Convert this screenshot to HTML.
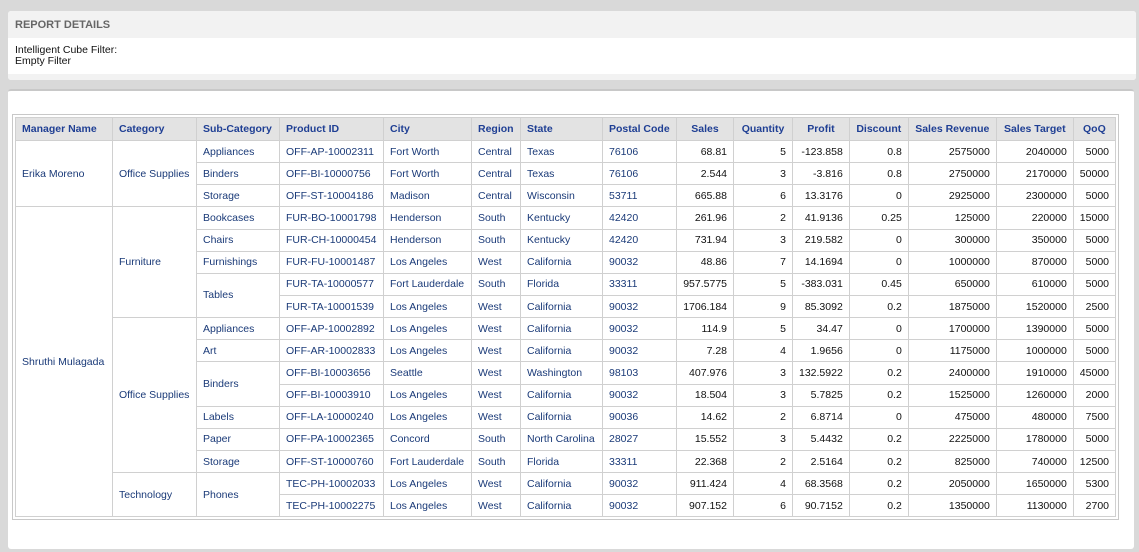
<!DOCTYPE html>
<html><head><meta charset="utf-8"><style>
body{margin:0;width:1139px;height:552px;background:#d9d9d9;font-family:"Liberation Sans",Arial,sans-serif;position:relative;overflow:hidden}
.p1{position:absolute;left:8px;top:11px;width:1128px;height:69px;background:#fff;border-radius:3px;overflow:hidden}
.p1 .h{height:27px;background:#f2f2f2;color:#666;font-weight:bold;font-size:11px;line-height:28px;padding-left:7px}
.p1 .t{font-size:10.5px;color:#111;padding:7px 0 0 7px;line-height:11px}
.p1 .s{position:absolute;left:0;right:0;bottom:0;height:6px;background:#f2f2f2}
.p2{position:absolute;left:8px;top:89px;width:1126px;height:460px;background:#fff;border-radius:3px;border-top:2px solid #c8c8c8;box-sizing:border-box}
table{position:absolute;left:15px;top:117px;border-collapse:collapse;table-layout:fixed;font-size:10.5px;color:#1a3a78;outline:1px solid #c8c8c8;outline-offset:2px}
td,th{border:1px solid #d0d0d0;padding:0 6px;height:21.15px;white-space:nowrap;overflow:hidden}
th{background:#e3e3e3;font-weight:bold;color:#1f3f94;height:22px;text-align:left}
th.n{text-align:center}
td.n{text-align:right;color:#111}
</style></head><body>
<div class="p1"><div class="h">REPORT DETAILS</div><div class="t">Intelligent Cube Filter:<br>Empty Filter</div><div class="s"></div></div>
<div class="p2"></div>
<table>
<colgroup><col style="width:97px"><col style="width:84px"><col style="width:83px"><col style="width:104px"><col style="width:88px"><col style="width:49px"><col style="width:82px"><col style="width:74px"><col style="width:57px"><col style="width:59px"><col style="width:56px"><col style="width:59px"><col style="width:88px"><col style="width:77px"><col style="width:41px"></colgroup>
<tr><th>Manager Name</th><th>Category</th><th>Sub-Category</th><th>Product ID</th><th>City</th><th>Region</th><th>State</th><th>Postal Code</th><th class="n">Sales</th><th class="n">Quantity</th><th class="n">Profit</th><th class="n">Discount</th><th class="n">Sales Revenue</th><th class="n">Sales Target</th><th class="n">QoQ</th></tr>
<tr><td rowspan="3">Erika Moreno</td><td rowspan="3">Office Supplies</td><td>Appliances</td><td>OFF-AP-10002311</td><td>Fort Worth</td><td>Central</td><td>Texas</td><td>76106</td><td class="n">68.81</td><td class="n">5</td><td class="n">-123.858</td><td class="n">0.8</td><td class="n">2575000</td><td class="n">2040000</td><td class="n">5000</td></tr>
<tr><td>Binders</td><td>OFF-BI-10000756</td><td>Fort Worth</td><td>Central</td><td>Texas</td><td>76106</td><td class="n">2.544</td><td class="n">3</td><td class="n">-3.816</td><td class="n">0.8</td><td class="n">2750000</td><td class="n">2170000</td><td class="n">50000</td></tr>
<tr><td>Storage</td><td>OFF-ST-10004186</td><td>Madison</td><td>Central</td><td>Wisconsin</td><td>53711</td><td class="n">665.88</td><td class="n">6</td><td class="n">13.3176</td><td class="n">0</td><td class="n">2925000</td><td class="n">2300000</td><td class="n">5000</td></tr>
<tr><td rowspan="14">Shruthi Mulagada</td><td rowspan="5">Furniture</td><td>Bookcases</td><td>FUR-BO-10001798</td><td>Henderson</td><td>South</td><td>Kentucky</td><td>42420</td><td class="n">261.96</td><td class="n">2</td><td class="n">41.9136</td><td class="n">0.25</td><td class="n">125000</td><td class="n">220000</td><td class="n">15000</td></tr>
<tr><td>Chairs</td><td>FUR-CH-10000454</td><td>Henderson</td><td>South</td><td>Kentucky</td><td>42420</td><td class="n">731.94</td><td class="n">3</td><td class="n">219.582</td><td class="n">0</td><td class="n">300000</td><td class="n">350000</td><td class="n">5000</td></tr>
<tr><td>Furnishings</td><td>FUR-FU-10001487</td><td>Los Angeles</td><td>West</td><td>California</td><td>90032</td><td class="n">48.86</td><td class="n">7</td><td class="n">14.1694</td><td class="n">0</td><td class="n">1000000</td><td class="n">870000</td><td class="n">5000</td></tr>
<tr><td rowspan="2">Tables</td><td>FUR-TA-10000577</td><td>Fort Lauderdale</td><td>South</td><td>Florida</td><td>33311</td><td class="n">957.5775</td><td class="n">5</td><td class="n">-383.031</td><td class="n">0.45</td><td class="n">650000</td><td class="n">610000</td><td class="n">5000</td></tr>
<tr><td>FUR-TA-10001539</td><td>Los Angeles</td><td>West</td><td>California</td><td>90032</td><td class="n">1706.184</td><td class="n">9</td><td class="n">85.3092</td><td class="n">0.2</td><td class="n">1875000</td><td class="n">1520000</td><td class="n">2500</td></tr>
<tr><td rowspan="7">Office Supplies</td><td>Appliances</td><td>OFF-AP-10002892</td><td>Los Angeles</td><td>West</td><td>California</td><td>90032</td><td class="n">114.9</td><td class="n">5</td><td class="n">34.47</td><td class="n">0</td><td class="n">1700000</td><td class="n">1390000</td><td class="n">5000</td></tr>
<tr><td>Art</td><td>OFF-AR-10002833</td><td>Los Angeles</td><td>West</td><td>California</td><td>90032</td><td class="n">7.28</td><td class="n">4</td><td class="n">1.9656</td><td class="n">0</td><td class="n">1175000</td><td class="n">1000000</td><td class="n">5000</td></tr>
<tr><td rowspan="2">Binders</td><td>OFF-BI-10003656</td><td>Seattle</td><td>West</td><td>Washington</td><td>98103</td><td class="n">407.976</td><td class="n">3</td><td class="n">132.5922</td><td class="n">0.2</td><td class="n">2400000</td><td class="n">1910000</td><td class="n">45000</td></tr>
<tr><td>OFF-BI-10003910</td><td>Los Angeles</td><td>West</td><td>California</td><td>90032</td><td class="n">18.504</td><td class="n">3</td><td class="n">5.7825</td><td class="n">0.2</td><td class="n">1525000</td><td class="n">1260000</td><td class="n">2000</td></tr>
<tr><td>Labels</td><td>OFF-LA-10000240</td><td>Los Angeles</td><td>West</td><td>California</td><td>90036</td><td class="n">14.62</td><td class="n">2</td><td class="n">6.8714</td><td class="n">0</td><td class="n">475000</td><td class="n">480000</td><td class="n">7500</td></tr>
<tr><td>Paper</td><td>OFF-PA-10002365</td><td>Concord</td><td>South</td><td>North Carolina</td><td>28027</td><td class="n">15.552</td><td class="n">3</td><td class="n">5.4432</td><td class="n">0.2</td><td class="n">2225000</td><td class="n">1780000</td><td class="n">5000</td></tr>
<tr><td>Storage</td><td>OFF-ST-10000760</td><td>Fort Lauderdale</td><td>South</td><td>Florida</td><td>33311</td><td class="n">22.368</td><td class="n">2</td><td class="n">2.5164</td><td class="n">0.2</td><td class="n">825000</td><td class="n">740000</td><td class="n">12500</td></tr>
<tr><td rowspan="2">Technology</td><td rowspan="2">Phones</td><td>TEC-PH-10002033</td><td>Los Angeles</td><td>West</td><td>California</td><td>90032</td><td class="n">911.424</td><td class="n">4</td><td class="n">68.3568</td><td class="n">0.2</td><td class="n">2050000</td><td class="n">1650000</td><td class="n">5300</td></tr>
<tr><td>TEC-PH-10002275</td><td>Los Angeles</td><td>West</td><td>California</td><td>90032</td><td class="n">907.152</td><td class="n">6</td><td class="n">90.7152</td><td class="n">0.2</td><td class="n">1350000</td><td class="n">1130000</td><td class="n">2700</td></tr>
</table>
</body></html>
